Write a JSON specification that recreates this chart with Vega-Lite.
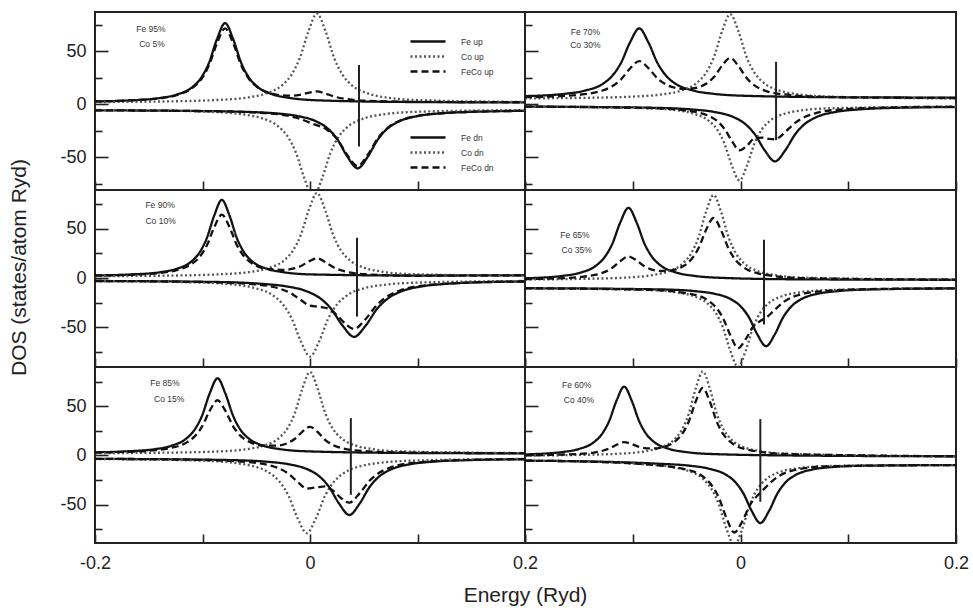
{
"$schema":"https://vega.github.io/schema/vega-lite/v6.json",
"background":"white",
"padding":{"left":7,"top":11,"right":0,"bottom":0},
"config":{"view":{"stroke":"#222","strokeWidth":2},"font":"Liberation Sans",
"axis":{"grid":false,"domain":false,"tickColor":"#222","tickWidth":1.6,"labelFont":"Liberation Sans","labelFontSize":18,"labelColor":"#222","titleFont":"Liberation Sans","titleFontSize":21,"titleFontWeight":"normal","titleColor":"#222","labelFlush":false,"labelBound":false,"labelOverlap":false},
"legend":{"labelFont":"Liberation Sans"},
"line":{"strokeWidth":2.3},
"text":{"font":"Liberation Sans"}},
"datasets":{
"fermi":[{"p":"a","x":0.0456,"y":37,"y2":-40},{"p":"b","x":0.033,"y":40,"y2":-34},{"p":"c","x":0.0437,"y":40.7,"y2":-39},{"p":"d","x":0.0218,"y":38.7,"y2":-47},{"p":"e","x":0.038,"y":38,"y2":-40},{"p":"f","x":0.0184,"y":37,"y2":-47}],
"comp":[{"p":"a","t":"Fe 95%","x":-0.148,"y":70.8},{"p":"a","t":"Co 5%","x":-0.147,"y":56.6},{"p":"b","t":"Fe 70%","x":-0.144,"y":68.2},{"p":"b","t":"Co 30%","x":-0.144,"y":55.7},{"p":"c","t":"Fe 90%","x":-0.1395,"y":74},{"p":"c","t":"Co 10%","x":-0.139,"y":57.2},{"p":"d","t":"Fe 65%","x":-0.1536,"y":43.7},{"p":"d","t":"Co 35%","x":-0.152,"y":28.6},{"p":"e","t":"Fe 85%","x":-0.135,"y":73.8},{"p":"e","t":"Co 15%","x":-0.131,"y":57.5},{"p":"f","t":"Fe 60%","x":-0.152,"y":71.7},{"p":"f","t":"Co 40%","x":-0.15,"y":56.5}],
"curves":[
{"p":"a","s":"Fe up","x":-0.2,"y":2.6},{"p":"a","s":"Fe up","x":-0.169,"y":3.5},{"p":"a","s":"Fe up","x":-0.139,"y":5.9},{"p":"a","s":"Fe up","x":-0.124,"y":9},{"p":"a","s":"Fe up","x":-0.109,"y":16.5},{"p":"a","s":"Fe up","x":-0.1015,"y":24.6},{"p":"a","s":"Fe up","x":-0.094,"y":39},{"p":"a","s":"Fe up","x":-0.0865,"y":61.5},{"p":"a","s":"Fe up","x":-0.079,"y":76.5},{"p":"a","s":"Fe up","x":-0.0715,"y":61.5},{"p":"a","s":"Fe up","x":-0.064,"y":39},{"p":"a","s":"Fe up","x":-0.0565,"y":24.6},{"p":"a","s":"Fe up","x":-0.049,"y":16.5},{"p":"a","s":"Fe up","x":-0.034,"y":9},{"p":"a","s":"Fe up","x":-0.019,"y":5.9},{"p":"a","s":"Fe up","x":0.011,"y":3.5},{"p":"a","s":"Fe up","x":0.1,"y":2.0},{"p":"a","s":"Fe up","x":0.2,"y":1.7},
{"p":"a","s":"Co up","x":-0.2,"y":2.0},{"p":"a","s":"Co up","x":-0.14,"y":2.5},{"p":"a","s":"Co up","x":-0.0895,"y":3.8},{"p":"a","s":"Co up","x":-0.0575,"y":6.4},{"p":"a","s":"Co up","x":-0.0415,"y":9.9},{"p":"a","s":"Co up","x":-0.0255,"y":18.3},{"p":"a","s":"Co up","x":-0.0175,"y":27.4},{"p":"a","s":"Co up","x":-0.0095,"y":43.5},{"p":"a","s":"Co up","x":-0.0015,"y":68.7},{"p":"a","s":"Co up","x":0.0065,"y":85.5},{"p":"a","s":"Co up","x":0.0145,"y":68.7},{"p":"a","s":"Co up","x":0.0225,"y":43.5},{"p":"a","s":"Co up","x":0.0305,"y":27.4},{"p":"a","s":"Co up","x":0.0385,"y":18.3},{"p":"a","s":"Co up","x":0.0545,"y":9.9},{"p":"a","s":"Co up","x":0.0705,"y":6.4},{"p":"a","s":"Co up","x":0.1025,"y":3.8},{"p":"a","s":"Co up","x":0.2,"y":2.1},
{"p":"a","s":"FeCo up","x":-0.2,"y":2.6},{"p":"a","s":"FeCo up","x":-0.169,"y":3.5},{"p":"a","s":"FeCo up","x":-0.139,"y":5.7},{"p":"a","s":"FeCo up","x":-0.124,"y":8.6},{"p":"a","s":"FeCo up","x":-0.109,"y":15.6},{"p":"a","s":"FeCo up","x":-0.1015,"y":23.1},{"p":"a","s":"FeCo up","x":-0.094,"y":36.6},{"p":"a","s":"FeCo up","x":-0.0865,"y":57.5},{"p":"a","s":"FeCo up","x":-0.079,"y":71.5},{"p":"a","s":"FeCo up","x":-0.0715,"y":57.6},{"p":"a","s":"FeCo up","x":-0.064,"y":36.8},{"p":"a","s":"FeCo up","x":-0.0565,"y":23.5},{"p":"a","s":"FeCo up","x":-0.049,"y":16.1},{"p":"a","s":"FeCo up","x":-0.034,"y":9.6},{"p":"a","s":"FeCo up","x":-0.0255,"y":8.3},{"p":"a","s":"FeCo up","x":-0.0175,"y":8.0},{"p":"a","s":"FeCo up","x":-0.0095,"y":8.8},{"p":"a","s":"FeCo up","x":-0.0015,"y":10.7},{"p":"a","s":"FeCo up","x":0.0065,"y":12.0},{"p":"a","s":"FeCo up","x":0.0145,"y":10.0},{"p":"a","s":"FeCo up","x":0.0225,"y":7.2},{"p":"a","s":"FeCo up","x":0.0385,"y":4.3},{"p":"a","s":"FeCo up","x":0.0545,"y":3.2},{"p":"a","s":"FeCo up","x":0.1,"y":2.2},{"p":"a","s":"FeCo up","x":0.2,"y":1.8},
{"p":"a","s":"Fe dn","x":-0.2,"y":-5.8},{"p":"a","s":"Fe dn","x":-0.13,"y":-6.2},{"p":"a","s":"Fe dn","x":-0.0697,"y":-7.0},{"p":"a","s":"Fe dn","x":-0.0317,"y":-8.7},{"p":"a","s":"Fe dn","x":-0.0127,"y":-11},{"p":"a","s":"Fe dn","x":0.0063,"y":-16.5},{"p":"a","s":"Fe dn","x":0.0158,"y":-22.4},{"p":"a","s":"Fe dn","x":0.0253,"y":-33},{"p":"a","s":"Fe dn","x":0.0348,"y":-49.5},{"p":"a","s":"Fe dn","x":0.0443,"y":-60.5},{"p":"a","s":"Fe dn","x":0.0538,"y":-49.5},{"p":"a","s":"Fe dn","x":0.0633,"y":-33},{"p":"a","s":"Fe dn","x":0.0728,"y":-22.4},{"p":"a","s":"Fe dn","x":0.0823,"y":-16.5},{"p":"a","s":"Fe dn","x":0.1013,"y":-11},{"p":"a","s":"Fe dn","x":0.1203,"y":-8.7},{"p":"a","s":"Fe dn","x":0.1583,"y":-7.0},{"p":"a","s":"Fe dn","x":0.2,"y":-6.3},
{"p":"a","s":"Co dn","x":-0.2,"y":-5.5},{"p":"a","s":"Co dn","x":-0.14,"y":-6.0},{"p":"a","s":"Co dn","x":-0.093,"y":-7.2},{"p":"a","s":"Co dn","x":-0.061,"y":-9.8},{"p":"a","s":"Co dn","x":-0.045,"y":-13.2},{"p":"a","s":"Co dn","x":-0.029,"y":-21.4},{"p":"a","s":"Co dn","x":-0.021,"y":-30.2},{"p":"a","s":"Co dn","x":-0.013,"y":-46},{"p":"a","s":"Co dn","x":-0.005,"y":-70.6},{"p":"a","s":"Co dn","x":0.003,"y":-87},{"p":"a","s":"Co dn","x":0.011,"y":-70.6},{"p":"a","s":"Co dn","x":0.019,"y":-46},{"p":"a","s":"Co dn","x":0.027,"y":-30.2},{"p":"a","s":"Co dn","x":0.035,"y":-21.4},{"p":"a","s":"Co dn","x":0.051,"y":-13.2},{"p":"a","s":"Co dn","x":0.067,"y":-9.8},{"p":"a","s":"Co dn","x":0.099,"y":-7.2},{"p":"a","s":"Co dn","x":0.2,"y":-5.5},
{"p":"a","s":"FeCo dn","x":-0.2,"y":-5.8},{"p":"a","s":"FeCo dn","x":-0.13,"y":-6.2},{"p":"a","s":"FeCo dn","x":-0.0697,"y":-7.1},{"p":"a","s":"FeCo dn","x":-0.045,"y":-8.2},{"p":"a","s":"FeCo dn","x":-0.029,"y":-9.6},{"p":"a","s":"FeCo dn","x":-0.0127,"y":-12.8},{"p":"a","s":"FeCo dn","x":0.003,"y":-18.7},{"p":"a","s":"FeCo dn","x":0.0158,"y":-24.1},{"p":"a","s":"FeCo dn","x":0.0253,"y":-33.0},{"p":"a","s":"FeCo dn","x":0.0348,"y":-48.1},{"p":"a","s":"FeCo dn","x":0.0443,"y":-58.3},{"p":"a","s":"FeCo dn","x":0.0538,"y":-47.7},{"p":"a","s":"FeCo dn","x":0.0633,"y":-31.9},{"p":"a","s":"FeCo dn","x":0.0728,"y":-21.8},{"p":"a","s":"FeCo dn","x":0.0823,"y":-16.1},{"p":"a","s":"FeCo dn","x":0.1013,"y":-10.8},{"p":"a","s":"FeCo dn","x":0.1203,"y":-8.8},{"p":"a","s":"FeCo dn","x":0.1583,"y":-7.0},{"p":"a","s":"FeCo dn","x":0.2,"y":-6.3},
{"p":"b","s":"Fe up","x":-0.2,"y":7.6},{"p":"b","s":"Fe up","x":-0.162,"y":9.9},{"p":"b","s":"Fe up","x":-0.145,"y":12.6},{"p":"b","s":"Fe up","x":-0.128,"y":19.1},{"p":"b","s":"Fe up","x":-0.1195,"y":26.2},{"p":"b","s":"Fe up","x":-0.111,"y":38.8},{"p":"b","s":"Fe up","x":-0.1025,"y":58.4},{"p":"b","s":"Fe up","x":-0.094,"y":71.5},{"p":"b","s":"Fe up","x":-0.0855,"y":58.4},{"p":"b","s":"Fe up","x":-0.077,"y":38.8},{"p":"b","s":"Fe up","x":-0.0685,"y":26.2},{"p":"b","s":"Fe up","x":-0.06,"y":19.1},{"p":"b","s":"Fe up","x":-0.043,"y":12.6},{"p":"b","s":"Fe up","x":-0.026,"y":9.9},{"p":"b","s":"Fe up","x":0.008,"y":7.8},{"p":"b","s":"Fe up","x":0.1,"y":6.5},{"p":"b","s":"Fe up","x":0.2,"y":6.2},
{"p":"b","s":"Co up","x":-0.2,"y":5.5},{"p":"b","s":"Co up","x":-0.15,"y":5.9},{"p":"b","s":"Co up","x":-0.0995,"y":7.2},{"p":"b","s":"Co up","x":-0.0695,"y":9.7},{"p":"b","s":"Co up","x":-0.0545,"y":13},{"p":"b","s":"Co up","x":-0.0395,"y":21},{"p":"b","s":"Co up","x":-0.032,"y":29.6},{"p":"b","s":"Co up","x":-0.0245,"y":45},{"p":"b","s":"Co up","x":-0.017,"y":69},{"p":"b","s":"Co up","x":-0.0095,"y":85},{"p":"b","s":"Co up","x":-0.002,"y":69},{"p":"b","s":"Co up","x":0.0055,"y":45},{"p":"b","s":"Co up","x":0.013,"y":29.6},{"p":"b","s":"Co up","x":0.0205,"y":21},{"p":"b","s":"Co up","x":0.0355,"y":13},{"p":"b","s":"Co up","x":0.0505,"y":9.7},{"p":"b","s":"Co up","x":0.0805,"y":7.2},{"p":"b","s":"Co up","x":0.2,"y":5.4},
{"p":"b","s":"FeCo up","x":-0.2,"y":6.6},{"p":"b","s":"FeCo up","x":-0.162,"y":7.9},{"p":"b","s":"FeCo up","x":-0.145,"y":9.4},{"p":"b","s":"FeCo up","x":-0.128,"y":12.9},{"p":"b","s":"FeCo up","x":-0.1195,"y":16.7},{"p":"b","s":"FeCo up","x":-0.111,"y":23.3},{"p":"b","s":"FeCo up","x":-0.1025,"y":33.7},{"p":"b","s":"FeCo up","x":-0.094,"y":40.7},{"p":"b","s":"FeCo up","x":-0.0855,"y":34.1},{"p":"b","s":"FeCo up","x":-0.077,"y":24.3},{"p":"b","s":"FeCo up","x":-0.0685,"y":18.2},{"p":"b","s":"FeCo up","x":-0.06,"y":15.3},{"p":"b","s":"FeCo up","x":-0.052,"y":14.4},{"p":"b","s":"FeCo up","x":-0.043,"y":15.1},{"p":"b","s":"FeCo up","x":-0.0395,"y":15.9},{"p":"b","s":"FeCo up","x":-0.032,"y":19.2},{"p":"b","s":"FeCo up","x":-0.0245,"y":25.8},{"p":"b","s":"FeCo up","x":-0.017,"y":36.5},{"p":"b","s":"FeCo up","x":-0.0095,"y":43.6},{"p":"b","s":"FeCo up","x":-0.002,"y":36.1},{"p":"b","s":"FeCo up","x":0.0055,"y":24.9},{"p":"b","s":"FeCo up","x":0.013,"y":17.7},{"p":"b","s":"FeCo up","x":0.0205,"y":13.6},{"p":"b","s":"FeCo up","x":0.0355,"y":9.8},{"p":"b","s":"FeCo up","x":0.0805,"y":6.8},{"p":"b","s":"FeCo up","x":0.2,"y":5.8},
{"p":"b","s":"Fe dn","x":-0.2,"y":-2.3},{"p":"b","s":"Fe dn","x":-0.082,"y":-3.4},{"p":"b","s":"Fe dn","x":-0.044,"y":-5.1},{"p":"b","s":"Fe dn","x":-0.025,"y":-7.2},{"p":"b","s":"Fe dn","x":-0.006,"y":-12.4},{"p":"b","s":"Fe dn","x":0.0035,"y":-18},{"p":"b","s":"Fe dn","x":0.013,"y":-28},{"p":"b","s":"Fe dn","x":0.0225,"y":-43.6},{"p":"b","s":"Fe dn","x":0.032,"y":-54},{"p":"b","s":"Fe dn","x":0.0415,"y":-43.6},{"p":"b","s":"Fe dn","x":0.051,"y":-28},{"p":"b","s":"Fe dn","x":0.0605,"y":-18},{"p":"b","s":"Fe dn","x":0.07,"y":-12.4},{"p":"b","s":"Fe dn","x":0.089,"y":-7.2},{"p":"b","s":"Fe dn","x":0.108,"y":-5.1},{"p":"b","s":"Fe dn","x":0.146,"y":-3.4},{"p":"b","s":"Fe dn","x":0.2,"y":-2.7},
{"p":"b","s":"Co dn","x":-0.2,"y":-2.3},{"p":"b","s":"Co dn","x":-0.085,"y":-3.9},{"p":"b","s":"Co dn","x":-0.057,"y":-6.1},{"p":"b","s":"Co dn","x":-0.043,"y":-9},{"p":"b","s":"Co dn","x":-0.029,"y":-16},{"p":"b","s":"Co dn","x":-0.022,"y":-23.5},{"p":"b","s":"Co dn","x":-0.015,"y":-37},{"p":"b","s":"Co dn","x":-0.008,"y":-58},{"p":"b","s":"Co dn","x":-0.001,"y":-72},{"p":"b","s":"Co dn","x":0.006,"y":-58},{"p":"b","s":"Co dn","x":0.013,"y":-37},{"p":"b","s":"Co dn","x":0.02,"y":-23.5},{"p":"b","s":"Co dn","x":0.027,"y":-16},{"p":"b","s":"Co dn","x":0.041,"y":-9},{"p":"b","s":"Co dn","x":0.055,"y":-6.1},{"p":"b","s":"Co dn","x":0.083,"y":-3.9},{"p":"b","s":"Co dn","x":0.2,"y":-2.3},
{"p":"b","s":"FeCo dn","x":-0.2,"y":-2.3},{"p":"b","s":"FeCo dn","x":-0.085,"y":-3.6},{"p":"b","s":"FeCo dn","x":-0.043,"y":-7.1},{"p":"b","s":"FeCo dn","x":-0.029,"y":-11.3},{"p":"b","s":"FeCo dn","x":-0.022,"y":-15.6},{"p":"b","s":"FeCo dn","x":-0.015,"y":-23.2},{"p":"b","s":"FeCo dn","x":-0.008,"y":-34.8},{"p":"b","s":"FeCo dn","x":-0.001,"y":-43.5},{"p":"b","s":"FeCo dn","x":0.006,"y":-39.1},{"p":"b","s":"FeCo dn","x":0.013,"y":-32.3},{"p":"b","s":"FeCo dn","x":0.02,"y":-31.6},{"p":"b","s":"FeCo dn","x":0.027,"y":-32.8},{"p":"b","s":"FeCo dn","x":0.032,"y":-33.1},{"p":"b","s":"FeCo dn","x":0.037,"y":-30.5},{"p":"b","s":"FeCo dn","x":0.041,"y":-26.8},{"p":"b","s":"FeCo dn","x":0.051,"y":-17.4},{"p":"b","s":"FeCo dn","x":0.0605,"y":-11.7},{"p":"b","s":"FeCo dn","x":0.07,"y":-8.5},{"p":"b","s":"FeCo dn","x":0.089,"y":-5.3},{"p":"b","s":"FeCo dn","x":0.146,"y":-3.0},{"p":"b","s":"FeCo dn","x":0.2,"y":-2.4},
{"p":"c","s":"Fe up","x":-0.2,"y":2.6},{"p":"c","s":"Fe up","x":-0.166,"y":3.6},{"p":"c","s":"Fe up","x":-0.138,"y":6.1},{"p":"c","s":"Fe up","x":-0.124,"y":9.3},{"p":"c","s":"Fe up","x":-0.11,"y":17},{"p":"c","s":"Fe up","x":-0.103,"y":25.4},{"p":"c","s":"Fe up","x":-0.096,"y":40.3},{"p":"c","s":"Fe up","x":-0.089,"y":63.5},{"p":"c","s":"Fe up","x":-0.082,"y":79},{"p":"c","s":"Fe up","x":-0.075,"y":63.5},{"p":"c","s":"Fe up","x":-0.068,"y":40.3},{"p":"c","s":"Fe up","x":-0.061,"y":25.4},{"p":"c","s":"Fe up","x":-0.054,"y":17},{"p":"c","s":"Fe up","x":-0.04,"y":9.3},{"p":"c","s":"Fe up","x":-0.026,"y":6.1},{"p":"c","s":"Fe up","x":0.002,"y":3.6},{"p":"c","s":"Fe up","x":0.1,"y":2.5},{"p":"c","s":"Fe up","x":0.2,"y":2.8},
{"p":"c","s":"Co up","x":-0.2,"y":1.9},{"p":"c","s":"Co up","x":-0.14,"y":2.3},{"p":"c","s":"Co up","x":-0.0835,"y":3.8},{"p":"c","s":"Co up","x":-0.0535,"y":6.5},{"p":"c","s":"Co up","x":-0.0385,"y":10},{"p":"c","s":"Co up","x":-0.0235,"y":18.4},{"p":"c","s":"Co up","x":-0.016,"y":27.5},{"p":"c","s":"Co up","x":-0.0085,"y":43.8},{"p":"c","s":"Co up","x":-0.001,"y":69.1},{"p":"c","s":"Co up","x":0.0065,"y":86},{"p":"c","s":"Co up","x":0.014,"y":69.1},{"p":"c","s":"Co up","x":0.0215,"y":43.8},{"p":"c","s":"Co up","x":0.029,"y":27.5},{"p":"c","s":"Co up","x":0.0365,"y":18.4},{"p":"c","s":"Co up","x":0.0515,"y":10},{"p":"c","s":"Co up","x":0.0665,"y":6.5},{"p":"c","s":"Co up","x":0.0965,"y":3.8},{"p":"c","s":"Co up","x":0.2,"y":2.4},
{"p":"c","s":"FeCo up","x":-0.2,"y":2.5},{"p":"c","s":"FeCo up","x":-0.166,"y":3.3},{"p":"c","s":"FeCo up","x":-0.138,"y":5.3},{"p":"c","s":"FeCo up","x":-0.124,"y":7.9},{"p":"c","s":"FeCo up","x":-0.11,"y":14.2},{"p":"c","s":"FeCo up","x":-0.103,"y":20.9},{"p":"c","s":"FeCo up","x":-0.096,"y":32.9},{"p":"c","s":"FeCo up","x":-0.089,"y":51.5},{"p":"c","s":"FeCo up","x":-0.082,"y":64},{"p":"c","s":"FeCo up","x":-0.075,"y":51.7},{"p":"c","s":"FeCo up","x":-0.068,"y":33.2},{"p":"c","s":"FeCo up","x":-0.061,"y":21.4},{"p":"c","s":"FeCo up","x":-0.054,"y":14.9},{"p":"c","s":"FeCo up","x":-0.04,"y":9.3},{"p":"c","s":"FeCo up","x":-0.0235,"y":8.2},{"p":"c","s":"FeCo up","x":-0.016,"y":9.4},{"p":"c","s":"FeCo up","x":-0.0085,"y":12.1},{"p":"c","s":"FeCo up","x":-0.001,"y":16.8},{"p":"c","s":"FeCo up","x":0.0065,"y":19.9},{"p":"c","s":"FeCo up","x":0.014,"y":16.3},{"p":"c","s":"FeCo up","x":0.0215,"y":11.1},{"p":"c","s":"FeCo up","x":0.0365,"y":5.7},{"p":"c","s":"FeCo up","x":0.0515,"y":3.8},{"p":"c","s":"FeCo up","x":0.0965,"y":2.3},{"p":"c","s":"FeCo up","x":0.2,"y":2.8},
{"p":"c","s":"Fe dn","x":-0.2,"y":-3.0},{"p":"c","s":"Fe dn","x":-0.088,"y":-4.0},{"p":"c","s":"Fe dn","x":-0.045,"y":-5.9},{"p":"c","s":"Fe dn","x":-0.0235,"y":-8.2},{"p":"c","s":"Fe dn","x":-0.002,"y":-13.9},{"p":"c","s":"Fe dn","x":0.0088,"y":-20},{"p":"c","s":"Fe dn","x":0.0195,"y":-31},{"p":"c","s":"Fe dn","x":0.0303,"y":-48.1},{"p":"c","s":"Fe dn","x":0.041,"y":-59.5},{"p":"c","s":"Fe dn","x":0.0518,"y":-48.1},{"p":"c","s":"Fe dn","x":0.0625,"y":-31},{"p":"c","s":"Fe dn","x":0.0733,"y":-20},{"p":"c","s":"Fe dn","x":0.084,"y":-13.9},{"p":"c","s":"Fe dn","x":0.1055,"y":-8.2},{"p":"c","s":"Fe dn","x":0.127,"y":-5.9},{"p":"c","s":"Fe dn","x":0.17,"y":-4.0},{"p":"c","s":"Fe dn","x":0.2,"y":-3.5},
{"p":"c","s":"Co dn","x":-0.2,"y":-3.0},{"p":"c","s":"Co dn","x":-0.102,"y":-4.6},{"p":"c","s":"Co dn","x":-0.068,"y":-7.0},{"p":"c","s":"Co dn","x":-0.051,"y":-10.2},{"p":"c","s":"Co dn","x":-0.034,"y":-17.9},{"p":"c","s":"Co dn","x":-0.0255,"y":-26.2},{"p":"c","s":"Co dn","x":-0.017,"y":-41},{"p":"c","s":"Co dn","x":-0.0085,"y":-64.1},{"p":"c","s":"Co dn","x":0,"y":-79.5},{"p":"c","s":"Co dn","x":0.0085,"y":-64.1},{"p":"c","s":"Co dn","x":0.017,"y":-41},{"p":"c","s":"Co dn","x":0.0255,"y":-26.2},{"p":"c","s":"Co dn","x":0.034,"y":-17.9},{"p":"c","s":"Co dn","x":0.051,"y":-10.2},{"p":"c","s":"Co dn","x":0.068,"y":-7.0},{"p":"c","s":"Co dn","x":0.102,"y":-4.6},{"p":"c","s":"Co dn","x":0.2,"y":-3.0},
{"p":"c","s":"FeCo dn","x":-0.2,"y":-3.0},{"p":"c","s":"FeCo dn","x":-0.102,"y":-4.0},{"p":"c","s":"FeCo dn","x":-0.051,"y":-6.5},{"p":"c","s":"FeCo dn","x":-0.034,"y":-9.1},{"p":"c","s":"FeCo dn","x":-0.017,"y":-15.9},{"p":"c","s":"FeCo dn","x":-0.0085,"y":-22.3},{"p":"c","s":"FeCo dn","x":0,"y":-28.0},{"p":"c","s":"FeCo dn","x":0.0085,"y":-29.1},{"p":"c","s":"FeCo dn","x":0.017,"y":-31.0},{"p":"c","s":"FeCo dn","x":0.0255,"y":-38.0},{"p":"c","s":"FeCo dn","x":0.0303,"y":-43.6},{"p":"c","s":"FeCo dn","x":0.041,"y":-51.5},{"p":"c","s":"FeCo dn","x":0.0518,"y":-41.4},{"p":"c","s":"FeCo dn","x":0.0625,"y":-26.9},{"p":"c","s":"FeCo dn","x":0.0733,"y":-17.7},{"p":"c","s":"FeCo dn","x":0.084,"y":-12.5},{"p":"c","s":"FeCo dn","x":0.1055,"y":-7.6},{"p":"c","s":"FeCo dn","x":0.17,"y":-3.9},{"p":"c","s":"FeCo dn","x":0.2,"y":-3.5},
{"p":"d","s":"Fe up","x":-0.2,"y":-0.3},{"p":"d","s":"Fe up","x":-0.164,"y":2.3},{"p":"d","s":"Fe up","x":-0.149,"y":5.3},{"p":"d","s":"Fe up","x":-0.134,"y":12.6},{"p":"d","s":"Fe up","x":-0.1265,"y":20.5},{"p":"d","s":"Fe up","x":-0.119,"y":34.5},{"p":"d","s":"Fe up","x":-0.1115,"y":56.4},{"p":"d","s":"Fe up","x":-0.104,"y":71},{"p":"d","s":"Fe up","x":-0.0965,"y":56.4},{"p":"d","s":"Fe up","x":-0.089,"y":34.5},{"p":"d","s":"Fe up","x":-0.0815,"y":20.5},{"p":"d","s":"Fe up","x":-0.074,"y":12.6},{"p":"d","s":"Fe up","x":-0.059,"y":5.3},{"p":"d","s":"Fe up","x":-0.044,"y":2.3},{"p":"d","s":"Fe up","x":-0.014,"y":0},{"p":"d","s":"Fe up","x":0.05,"y":-1.3},{"p":"d","s":"Fe up","x":0.2,"y":-1.8},
{"p":"d","s":"Co up","x":-0.2,"y":-1.5},{"p":"d","s":"Co up","x":-0.15,"y":-0.9},{"p":"d","s":"Co up","x":-0.109,"y":0.3},{"p":"d","s":"Co up","x":-0.081,"y":3.1},{"p":"d","s":"Co up","x":-0.067,"y":6.6},{"p":"d","s":"Co up","x":-0.053,"y":15.2},{"p":"d","s":"Co up","x":-0.046,"y":24.5},{"p":"d","s":"Co up","x":-0.039,"y":41},{"p":"d","s":"Co up","x":-0.032,"y":66.8},{"p":"d","s":"Co up","x":-0.025,"y":84},{"p":"d","s":"Co up","x":-0.018,"y":66.8},{"p":"d","s":"Co up","x":-0.011,"y":41},{"p":"d","s":"Co up","x":-0.004,"y":24.5},{"p":"d","s":"Co up","x":0.003,"y":15.2},{"p":"d","s":"Co up","x":0.017,"y":6.6},{"p":"d","s":"Co up","x":0.031,"y":3.1},{"p":"d","s":"Co up","x":0.059,"y":0.3},{"p":"d","s":"Co up","x":0.2,"y":-1.7},
{"p":"d","s":"FeCo up","x":-0.2,"y":-1.1},{"p":"d","s":"FeCo up","x":-0.164,"y":-0.1},{"p":"d","s":"FeCo up","x":-0.149,"y":1.0},{"p":"d","s":"FeCo up","x":-0.134,"y":3.4},{"p":"d","s":"FeCo up","x":-0.1265,"y":5.9},{"p":"d","s":"FeCo up","x":-0.119,"y":10.3},{"p":"d","s":"FeCo up","x":-0.1115,"y":17.1},{"p":"d","s":"FeCo up","x":-0.104,"y":21.8},{"p":"d","s":"FeCo up","x":-0.0965,"y":17.8},{"p":"d","s":"FeCo up","x":-0.089,"y":11.8},{"p":"d","s":"FeCo up","x":-0.0815,"y":8.3},{"p":"d","s":"FeCo up","x":-0.074,"y":7.1},{"p":"d","s":"FeCo up","x":-0.067,"y":7.3},{"p":"d","s":"FeCo up","x":-0.06,"y":8.8},{"p":"d","s":"FeCo up","x":-0.053,"y":12.1},{"p":"d","s":"FeCo up","x":-0.046,"y":18.4},{"p":"d","s":"FeCo up","x":-0.039,"y":30.1},{"p":"d","s":"FeCo up","x":-0.032,"y":48.5},{"p":"d","s":"FeCo up","x":-0.025,"y":60.7},{"p":"d","s":"FeCo up","x":-0.018,"y":48.2},{"p":"d","s":"FeCo up","x":-0.011,"y":29.5},{"p":"d","s":"FeCo up","x":-0.004,"y":17.5},{"p":"d","s":"FeCo up","x":0.003,"y":10.8},{"p":"d","s":"FeCo up","x":0.017,"y":4.5},{"p":"d","s":"FeCo up","x":0.059,"y":-0.2},{"p":"d","s":"FeCo up","x":0.2,"y":-1.7},
{"p":"d","s":"Fe dn","x":-0.2,"y":-10.3},{"p":"d","s":"Fe dn","x":-0.0723,"y":-11.6},{"p":"d","s":"Fe dn","x":-0.0403,"y":-13.5},{"p":"d","s":"Fe dn","x":-0.0243,"y":-15.9},{"p":"d","s":"Fe dn","x":-0.0083,"y":-21.8},{"p":"d","s":"Fe dn","x":-0.0003,"y":-28.2},{"p":"d","s":"Fe dn","x":0.0077,"y":-39.5},{"p":"d","s":"Fe dn","x":0.0157,"y":-57.2},{"p":"d","s":"Fe dn","x":0.0237,"y":-69},{"p":"d","s":"Fe dn","x":0.0317,"y":-57.2},{"p":"d","s":"Fe dn","x":0.0397,"y":-39.5},{"p":"d","s":"Fe dn","x":0.0477,"y":-28.2},{"p":"d","s":"Fe dn","x":0.0557,"y":-21.8},{"p":"d","s":"Fe dn","x":0.0717,"y":-15.9},{"p":"d","s":"Fe dn","x":0.0877,"y":-13.5},{"p":"d","s":"Fe dn","x":0.1197,"y":-11.6},{"p":"d","s":"Fe dn","x":0.2,"y":-10.5},
{"p":"d","s":"Co dn","x":-0.2,"y":-10.4},{"p":"d","s":"Co dn","x":-0.0863,"y":-12.2},{"p":"d","s":"Co dn","x":-0.0583,"y":-14.7},{"p":"d","s":"Co dn","x":-0.0443,"y":-18},{"p":"d","s":"Co dn","x":-0.0303,"y":-26},{"p":"d","s":"Co dn","x":-0.0233,"y":-34.6},{"p":"d","s":"Co dn","x":-0.0163,"y":-50},{"p":"d","s":"Co dn","x":-0.0093,"y":-74},{"p":"d","s":"Co dn","x":-0.0023,"y":-90},{"p":"d","s":"Co dn","x":0.0047,"y":-74},{"p":"d","s":"Co dn","x":0.0117,"y":-50},{"p":"d","s":"Co dn","x":0.0187,"y":-34.6},{"p":"d","s":"Co dn","x":0.0257,"y":-26},{"p":"d","s":"Co dn","x":0.0397,"y":-18},{"p":"d","s":"Co dn","x":0.0537,"y":-14.7},{"p":"d","s":"Co dn","x":0.0817,"y":-12.2},{"p":"d","s":"Co dn","x":0.2,"y":-10.4},
{"p":"d","s":"FeCo dn","x":-0.2,"y":-10.4},{"p":"d","s":"FeCo dn","x":-0.0863,"y":-11.9},{"p":"d","s":"FeCo dn","x":-0.0443,"y":-16.5},{"p":"d","s":"FeCo dn","x":-0.0303,"y":-22.6},{"p":"d","s":"FeCo dn","x":-0.0233,"y":-29.1},{"p":"d","s":"FeCo dn","x":-0.0163,"y":-40.4},{"p":"d","s":"FeCo dn","x":-0.0093,"y":-58.2},{"p":"d","s":"FeCo dn","x":-0.0023,"y":-70.9},{"p":"d","s":"FeCo dn","x":0.0047,"y":-62.1},{"p":"d","s":"FeCo dn","x":0.0117,"y":-49.3},{"p":"d","s":"FeCo dn","x":0.0187,"y":-43.3},{"p":"d","s":"FeCo dn","x":0.0237,"y":-40.2},{"p":"d","s":"FeCo dn","x":0.0317,"y":-32.3},{"p":"d","s":"FeCo dn","x":0.0397,"y":-24.5},{"p":"d","s":"FeCo dn","x":0.0477,"y":-19.5},{"p":"d","s":"FeCo dn","x":0.0557,"y":-16.6},{"p":"d","s":"FeCo dn","x":0.0717,"y":-13.7},{"p":"d","s":"FeCo dn","x":0.1197,"y":-11.2},{"p":"d","s":"FeCo dn","x":0.2,"y":-10.5},
{"p":"e","s":"Fe up","x":-0.2,"y":3.2},{"p":"e","s":"Fe up","x":-0.173,"y":4.1},{"p":"e","s":"Fe up","x":-0.144,"y":6.5},{"p":"e","s":"Fe up","x":-0.1295,"y":9.7},{"p":"e","s":"Fe up","x":-0.115,"y":17.3},{"p":"e","s":"Fe up","x":-0.1078,"y":25.5},{"p":"e","s":"Fe up","x":-0.1005,"y":40.3},{"p":"e","s":"Fe up","x":-0.0933,"y":63.2},{"p":"e","s":"Fe up","x":-0.086,"y":78.5},{"p":"e","s":"Fe up","x":-0.0788,"y":63.2},{"p":"e","s":"Fe up","x":-0.0715,"y":40.3},{"p":"e","s":"Fe up","x":-0.0643,"y":25.5},{"p":"e","s":"Fe up","x":-0.057,"y":17.3},{"p":"e","s":"Fe up","x":-0.0425,"y":9.7},{"p":"e","s":"Fe up","x":-0.028,"y":6.5},{"p":"e","s":"Fe up","x":0.001,"y":4.1},{"p":"e","s":"Fe up","x":0.1,"y":2.5},{"p":"e","s":"Fe up","x":0.2,"y":2.2},
{"p":"e","s":"Co up","x":-0.2,"y":2.4},{"p":"e","s":"Co up","x":-0.14,"y":2.8},{"p":"e","s":"Co up","x":-0.084,"y":4.2},{"p":"e","s":"Co up","x":-0.056,"y":6.9},{"p":"e","s":"Co up","x":-0.042,"y":10.3},{"p":"e","s":"Co up","x":-0.028,"y":18.6},{"p":"e","s":"Co up","x":-0.021,"y":27.5},{"p":"e","s":"Co up","x":-0.014,"y":43.5},{"p":"e","s":"Co up","x":-0.007,"y":68.4},{"p":"e","s":"Co up","x":0,"y":85},{"p":"e","s":"Co up","x":0.007,"y":68.4},{"p":"e","s":"Co up","x":0.014,"y":43.5},{"p":"e","s":"Co up","x":0.021,"y":27.5},{"p":"e","s":"Co up","x":0.028,"y":18.6},{"p":"e","s":"Co up","x":0.042,"y":10.3},{"p":"e","s":"Co up","x":0.056,"y":6.9},{"p":"e","s":"Co up","x":0.084,"y":4.2},{"p":"e","s":"Co up","x":0.2,"y":2.4},
{"p":"e","s":"FeCo up","x":-0.2,"y":3.0},{"p":"e","s":"FeCo up","x":-0.173,"y":3.6},{"p":"e","s":"FeCo up","x":-0.144,"y":5.4},{"p":"e","s":"FeCo up","x":-0.1295,"y":7.7},{"p":"e","s":"FeCo up","x":-0.115,"y":13.1},{"p":"e","s":"FeCo up","x":-0.1078,"y":18.9},{"p":"e","s":"FeCo up","x":-0.1005,"y":29.3},{"p":"e","s":"FeCo up","x":-0.0933,"y":45.4},{"p":"e","s":"FeCo up","x":-0.086,"y":56.2},{"p":"e","s":"FeCo up","x":-0.0788,"y":45.6},{"p":"e","s":"FeCo up","x":-0.0715,"y":29.7},{"p":"e","s":"FeCo up","x":-0.0643,"y":19.7},{"p":"e","s":"FeCo up","x":-0.057,"y":14.2},{"p":"e","s":"FeCo up","x":-0.0425,"y":9.9},{"p":"e","s":"FeCo up","x":-0.028,"y":10.3},{"p":"e","s":"FeCo up","x":-0.021,"y":12.5},{"p":"e","s":"FeCo up","x":-0.014,"y":17.0},{"p":"e","s":"FeCo up","x":-0.007,"y":24.3},{"p":"e","s":"FeCo up","x":0,"y":29.2},{"p":"e","s":"FeCo up","x":0.007,"y":23.9},{"p":"e","s":"FeCo up","x":0.014,"y":16.0},{"p":"e","s":"FeCo up","x":0.021,"y":10.9},{"p":"e","s":"FeCo up","x":0.028,"y":8.0},{"p":"e","s":"FeCo up","x":0.042,"y":5.3},{"p":"e","s":"FeCo up","x":0.084,"y":3.1},{"p":"e","s":"FeCo up","x":0.2,"y":2.3},
{"p":"e","s":"Fe dn","x":-0.2,"y":-3.4},{"p":"e","s":"Fe dn","x":-0.0774,"y":-4.6},{"p":"e","s":"Fe dn","x":-0.0394,"y":-6.4},{"p":"e","s":"Fe dn","x":-0.0204,"y":-8.8},{"p":"e","s":"Fe dn","x":-0.0014,"y":-14.5},{"p":"e","s":"Fe dn","x":0.0081,"y":-20.7},{"p":"e","s":"Fe dn","x":0.0176,"y":-31.8},{"p":"e","s":"Fe dn","x":0.0271,"y":-49},{"p":"e","s":"Fe dn","x":0.0366,"y":-60.5},{"p":"e","s":"Fe dn","x":0.0461,"y":-49},{"p":"e","s":"Fe dn","x":0.0556,"y":-31.8},{"p":"e","s":"Fe dn","x":0.0651,"y":-20.7},{"p":"e","s":"Fe dn","x":0.0746,"y":-14.5},{"p":"e","s":"Fe dn","x":0.0936,"y":-8.8},{"p":"e","s":"Fe dn","x":0.1126,"y":-6.4},{"p":"e","s":"Fe dn","x":0.1506,"y":-4.6},{"p":"e","s":"Fe dn","x":0.2,"y":-3.8},
{"p":"e","s":"Co dn","x":-0.2,"y":-3.6},{"p":"e","s":"Co dn","x":-0.105,"y":-5.1},{"p":"e","s":"Co dn","x":-0.071,"y":-7.5},{"p":"e","s":"Co dn","x":-0.054,"y":-10.6},{"p":"e","s":"Co dn","x":-0.037,"y":-18.2},{"p":"e","s":"Co dn","x":-0.0285,"y":-26.4},{"p":"e","s":"Co dn","x":-0.02,"y":-41},{"p":"e","s":"Co dn","x":-0.0115,"y":-63.8},{"p":"e","s":"Co dn","x":-0.003,"y":-79},{"p":"e","s":"Co dn","x":0.0055,"y":-63.8},{"p":"e","s":"Co dn","x":0.014,"y":-41},{"p":"e","s":"Co dn","x":0.0225,"y":-26.4},{"p":"e","s":"Co dn","x":0.031,"y":-18.2},{"p":"e","s":"Co dn","x":0.048,"y":-10.6},{"p":"e","s":"Co dn","x":0.065,"y":-7.5},{"p":"e","s":"Co dn","x":0.099,"y":-5.1},{"p":"e","s":"Co dn","x":0.2,"y":-3.5},
{"p":"e","s":"FeCo dn","x":-0.2,"y":-3.4},{"p":"e","s":"FeCo dn","x":-0.105,"y":-4.4},{"p":"e","s":"FeCo dn","x":-0.054,"y":-7.0},{"p":"e","s":"FeCo dn","x":-0.037,"y":-10.2},{"p":"e","s":"FeCo dn","x":-0.0285,"y":-13.3},{"p":"e","s":"FeCo dn","x":-0.02,"y":-18.6},{"p":"e","s":"FeCo dn","x":-0.0115,"y":-26.8},{"p":"e","s":"FeCo dn","x":-0.003,"y":-33.6},{"p":"e","s":"FeCo dn","x":0.0055,"y":-32.5},{"p":"e","s":"FeCo dn","x":0.014,"y":-31.5},{"p":"e","s":"FeCo dn","x":0.0225,"y":-36.7},{"p":"e","s":"FeCo dn","x":0.0271,"y":-41.6},{"p":"e","s":"FeCo dn","x":0.0366,"y":-47.9},{"p":"e","s":"FeCo dn","x":0.0461,"y":-38.5},{"p":"e","s":"FeCo dn","x":0.0556,"y":-25.5},{"p":"e","s":"FeCo dn","x":0.0651,"y":-17.1},{"p":"e","s":"FeCo dn","x":0.0746,"y":-12.3},{"p":"e","s":"FeCo dn","x":0.0936,"y":-7.8},{"p":"e","s":"FeCo dn","x":0.1506,"y":-4.4},{"p":"e","s":"FeCo dn","x":0.2,"y":-3.7},
{"p":"f","s":"Fe up","x":-0.2,"y":1.1},{"p":"f","s":"Fe up","x":-0.164,"y":3.7},{"p":"f","s":"Fe up","x":-0.15,"y":6.6},{"p":"f","s":"Fe up","x":-0.136,"y":13.6},{"p":"f","s":"Fe up","x":-0.129,"y":21.2},{"p":"f","s":"Fe up","x":-0.122,"y":34.8},{"p":"f","s":"Fe up","x":-0.115,"y":55.9},{"p":"f","s":"Fe up","x":-0.108,"y":70},{"p":"f","s":"Fe up","x":-0.101,"y":55.9},{"p":"f","s":"Fe up","x":-0.094,"y":34.8},{"p":"f","s":"Fe up","x":-0.087,"y":21.2},{"p":"f","s":"Fe up","x":-0.08,"y":13.6},{"p":"f","s":"Fe up","x":-0.066,"y":6.6},{"p":"f","s":"Fe up","x":-0.052,"y":3.7},{"p":"f","s":"Fe up","x":-0.024,"y":1.4},{"p":"f","s":"Fe up","x":0.05,"y":0.0},{"p":"f","s":"Fe up","x":0.2,"y":-0.8},
{"p":"f","s":"Co up","x":-0.2,"y":0.0},{"p":"f","s":"Co up","x":-0.16,"y":0.4},{"p":"f","s":"Co up","x":-0.113,"y":1.8},{"p":"f","s":"Co up","x":-0.087,"y":4.6},{"p":"f","s":"Co up","x":-0.074,"y":8.1},{"p":"f","s":"Co up","x":-0.061,"y":16.7},{"p":"f","s":"Co up","x":-0.0545,"y":26},{"p":"f","s":"Co up","x":-0.048,"y":42.5},{"p":"f","s":"Co up","x":-0.0415,"y":68.3},{"p":"f","s":"Co up","x":-0.035,"y":85.5},{"p":"f","s":"Co up","x":-0.0285,"y":68.3},{"p":"f","s":"Co up","x":-0.022,"y":42.5},{"p":"f","s":"Co up","x":-0.0155,"y":26},{"p":"f","s":"Co up","x":-0.009,"y":16.7},{"p":"f","s":"Co up","x":0.004,"y":8.1},{"p":"f","s":"Co up","x":0.017,"y":4.6},{"p":"f","s":"Co up","x":0.043,"y":1.8},{"p":"f","s":"Co up","x":0.2,"y":-1.0},
{"p":"f","s":"FeCo up","x":-0.2,"y":0.2},{"p":"f","s":"FeCo up","x":-0.15,"y":1.6},{"p":"f","s":"FeCo up","x":-0.136,"y":3.0},{"p":"f","s":"FeCo up","x":-0.129,"y":4.5},{"p":"f","s":"FeCo up","x":-0.122,"y":7.0},{"p":"f","s":"FeCo up","x":-0.115,"y":10.9},{"p":"f","s":"FeCo up","x":-0.108,"y":13.6},{"p":"f","s":"FeCo up","x":-0.101,"y":11.7},{"p":"f","s":"FeCo up","x":-0.094,"y":8.7},{"p":"f","s":"FeCo up","x":-0.087,"y":7.2},{"p":"f","s":"FeCo up","x":-0.08,"y":7.2},{"p":"f","s":"FeCo up","x":-0.074,"y":8.1},{"p":"f","s":"FeCo up","x":-0.061,"y":14.2},{"p":"f","s":"FeCo up","x":-0.0545,"y":21.4},{"p":"f","s":"FeCo up","x":-0.048,"y":34.5},{"p":"f","s":"FeCo up","x":-0.0415,"y":55.1},{"p":"f","s":"FeCo up","x":-0.035,"y":68.7},{"p":"f","s":"FeCo up","x":-0.0285,"y":54.9},{"p":"f","s":"FeCo up","x":-0.022,"y":34.2},{"p":"f","s":"FeCo up","x":-0.0155,"y":20.9},{"p":"f","s":"FeCo up","x":-0.009,"y":13.5},{"p":"f","s":"FeCo up","x":0.004,"y":6.6},{"p":"f","s":"FeCo up","x":0.043,"y":1.5},{"p":"f","s":"FeCo up","x":0.2,"y":-0.8},
{"p":"f","s":"Fe dn","x":-0.2,"y":-5.3},{"p":"f","s":"Fe dn","x":-0.14,"y":-6.1},{"p":"f","s":"Fe dn","x":-0.0776,"y":-8.3},{"p":"f","s":"Fe dn","x":-0.0456,"y":-10.6},{"p":"f","s":"Fe dn","x":-0.0296,"y":-13.3},{"p":"f","s":"Fe dn","x":-0.0136,"y":-19.5},{"p":"f","s":"Fe dn","x":-0.0056,"y":-26.2},{"p":"f","s":"Fe dn","x":0.0024,"y":-38.0},{"p":"f","s":"Fe dn","x":0.0104,"y":-56.4},{"p":"f","s":"Fe dn","x":0.0184,"y":-68.7},{"p":"f","s":"Fe dn","x":0.0264,"y":-56.6},{"p":"f","s":"Fe dn","x":0.0344,"y":-38.4},{"p":"f","s":"Fe dn","x":0.0424,"y":-26.7},{"p":"f","s":"Fe dn","x":0.0504,"y":-20.3},{"p":"f","s":"Fe dn","x":0.0664,"y":-14.3},{"p":"f","s":"Fe dn","x":0.0824,"y":-12.0},{"p":"f","s":"Fe dn","x":0.1144,"y":-10.4},{"p":"f","s":"Fe dn","x":0.2,"y":-9.7},
{"p":"f","s":"Co dn","x":-0.2,"y":-5.3},{"p":"f","s":"Co dn","x":-0.14,"y":-6.2},{"p":"f","s":"Co dn","x":-0.0927,"y":-8.7},{"p":"f","s":"Co dn","x":-0.0637,"y":-11.7},{"p":"f","s":"Co dn","x":-0.0492,"y":-15.4},{"p":"f","s":"Co dn","x":-0.0347,"y":-23.9},{"p":"f","s":"Co dn","x":-0.0275,"y":-33.1},{"p":"f","s":"Co dn","x":-0.0202,"y":-49.3},{"p":"f","s":"Co dn","x":-0.013,"y":-74.6},{"p":"f","s":"Co dn","x":-0.0057,"y":-91.4},{"p":"f","s":"Co dn","x":0.0016,"y":-74.7},{"p":"f","s":"Co dn","x":0.0088,"y":-49.6},{"p":"f","s":"Co dn","x":0.0161,"y":-33.5},{"p":"f","s":"Co dn","x":0.0233,"y":-24.6},{"p":"f","s":"Co dn","x":0.0378,"y":-16.3},{"p":"f","s":"Co dn","x":0.0523,"y":-13.0},{"p":"f","s":"Co dn","x":0.0813,"y":-10.7},{"p":"f","s":"Co dn","x":0.2,"y":-9.7},
{"p":"f","s":"FeCo dn","x":-0.2,"y":-5.3},{"p":"f","s":"FeCo dn","x":-0.14,"y":-6.3},{"p":"f","s":"FeCo dn","x":-0.0927,"y":-8.6},{"p":"f","s":"FeCo dn","x":-0.0492,"y":-14.5},{"p":"f","s":"FeCo dn","x":-0.0347,"y":-21.6},{"p":"f","s":"FeCo dn","x":-0.0275,"y":-29.2},{"p":"f","s":"FeCo dn","x":-0.0202,"y":-42.7},{"p":"f","s":"FeCo dn","x":-0.013,"y":-63.7},{"p":"f","s":"FeCo dn","x":-0.0057,"y":-78.3},{"p":"f","s":"FeCo dn","x":0.0016,"y":-67.1},{"p":"f","s":"FeCo dn","x":0.0088,"y":-50.2},{"p":"f","s":"FeCo dn","x":0.0161,"y":-40.3},{"p":"f","s":"FeCo dn","x":0.0184,"y":-37.8},{"p":"f","s":"FeCo dn","x":0.0233,"y":-32.4},{"p":"f","s":"FeCo dn","x":0.0344,"y":-21.7},{"p":"f","s":"FeCo dn","x":0.0378,"y":-19.5},{"p":"f","s":"FeCo dn","x":0.0504,"y":-14.7},{"p":"f","s":"FeCo dn","x":0.0664,"y":-12.0},{"p":"f","s":"FeCo dn","x":0.0813,"y":-11.0},{"p":"f","s":"FeCo dn","x":0.2,"y":-9.7}
]},
"columns":2,
"spacing":0,
"bounds":"flush",
"concat":[
{"width":430,"height":178,
"resolve":{"scale":{"strokeDash":"independent","color":"independent"}},
"layer":[
{"data":{"name":"curves"},"transform":[{"filter":"datum.p == 'a' && indexof(datum.s, 'up') >= 0"}],
"mark":{"type":"line","interpolate":"monotone","clip":true},
"encoding":{
"x":{"field":"x","type":"quantitative","scale":{"domain":[-0.2,0.2],"nice":false},"axis":{"values":[-0.2,-0.1,0,0.1,0.2],"labels":false,"tickSize":-9,"title":null}},
"y":{"field":"y","type":"quantitative","scale":{"domain":[-81,87],"nice":false},"axis":{"values":[-75,-50,-25,0,25,50,75],"tickCount":20,"labelExpr":"datum.value == 50 ? '50' : datum.value == 0 ? '0' : datum.value == -50 ? '-50' : ''","tickSize":{"expr":"datum.value % 50 == 0 ? -13 : -7"},"labelPadding":22,"title":null}},
"strokeDash":{"field":"s","type":"nominal","scale":{"domain":["Fe up","Co up","FeCo up"],"range":[[1,0],[2,2.5],[7,4]]},"legend":{"orient":"none","legendX":324.5,"legendY":21,"title":null,"symbolType":"M-2.5,0H2.5","symbolSize":196,"symbolStrokeWidth":2,"labelOffset":24.5,"labelFontSize":8.5,"labelColor":"#333","rowPadding":1,"padding":0}},
"color":{"field":"s","type":"nominal","scale":{"domain":["Fe up","Co up","FeCo up"],"range":["#111","#555","#111"]},"legend":{"orient":"none","legendX":324.5,"legendY":21,"title":null,"symbolType":"M-2.5,0H2.5","symbolSize":196,"symbolStrokeWidth":2,"labelOffset":24.5,"labelFontSize":8.5,"labelColor":"#333","rowPadding":1,"padding":0}}
}},
{"data":{"name":"curves"},"transform":[{"filter":"datum.p == 'a' && indexof(datum.s, 'dn') >= 0"}],
"mark":{"type":"line","interpolate":"monotone","clip":true},
"encoding":{
"x":{"field":"x","type":"quantitative"},
"y":{"field":"y","type":"quantitative"},
"strokeDash":{"field":"s","type":"nominal","scale":{"domain":["Fe dn","Co dn","FeCo dn"],"range":[[1,0],[2,2.5],[7,4]]},"legend":{"orient":"none","legendX":324.5,"legendY":117,"title":null,"symbolType":"M-2.5,0H2.5","symbolSize":196,"symbolStrokeWidth":2,"labelOffset":24.5,"labelFontSize":8.5,"labelColor":"#333","rowPadding":1,"padding":0}},
"color":{"field":"s","type":"nominal","scale":{"domain":["Fe dn","Co dn","FeCo dn"],"range":["#111","#555","#111"]},"legend":{"orient":"none","legendX":324.5,"legendY":117,"title":null,"symbolType":"M-2.5,0H2.5","symbolSize":196,"symbolStrokeWidth":2,"labelOffset":24.5,"labelFontSize":8.5,"labelColor":"#333","rowPadding":1,"padding":0}}
}},
{"data":{"name":"fermi"},"transform":[{"filter":"datum.p == 'a'"}],"mark":{"type":"rule","color":"#222","strokeWidth":2},"encoding":{"x":{"field":"x","type":"quantitative"},"y":{"field":"y","type":"quantitative"},"y2":{"field":"y2"}}},
{"data":{"name":"comp"},"transform":[{"filter":"datum.p == 'a'"}],"mark":{"type":"text","fontSize":8.5,"color":"#333"},"encoding":{"x":{"field":"x","type":"quantitative"},"y":{"field":"y","type":"quantitative"},"text":{"field":"t"}}}
]},
{"width":431,"height":178,
"layer":[
{"data":{"name":"curves"},"transform":[{"filter":"datum.p == 'b'"}],
"mark":{"type":"line","interpolate":"monotone","clip":true},
"encoding":{
"x":{"field":"x","type":"quantitative","scale":{"domain":[-0.2,0.2],"nice":false},"axis":{"values":[-0.2,-0.1,0,0.1,0.2],"labels":false,"tickSize":-9,"title":null}},
"y":{"field":"y","type":"quantitative","scale":{"domain":[-81,87],"nice":false},"axis":{"values":[-75,-50,-25,0,25,50,75],"tickCount":20,"labels":false,"tickSize":{"expr":"datum.value % 50 == 0 ? -13 : -7"},"title":null}},
"strokeDash":{"field":"s","type":"nominal","scale":{"domain":["Fe up","Co up","FeCo up","Fe dn","Co dn","FeCo dn"],"range":[[1,0],[2,2.5],[7,4],[1,0],[2,2.5],[7,4]]},"legend":null},
"color":{"field":"s","type":"nominal","scale":{"domain":["Fe up","Co up","FeCo up","Fe dn","Co dn","FeCo dn"],"range":["#111","#555","#111","#111","#555","#111"]},"legend":null}
}},
{"data":{"name":"fermi"},"transform":[{"filter":"datum.p == 'b'"}],"mark":{"type":"rule","color":"#222","strokeWidth":2},"encoding":{"x":{"field":"x","type":"quantitative"},"y":{"field":"y","type":"quantitative"},"y2":{"field":"y2"}}},
{"data":{"name":"comp"},"transform":[{"filter":"datum.p == 'b'"}],"mark":{"type":"text","fontSize":8.5,"color":"#333"},"encoding":{"x":{"field":"x","type":"quantitative"},"y":{"field":"y","type":"quantitative"},"text":{"field":"t"}}}
]},
{"width":430,"height":177,
"layer":[
{"data":{"name":"curves"},"transform":[{"filter":"datum.p == 'c'"}],
"mark":{"type":"line","interpolate":"monotone","clip":true},
"encoding":{
"x":{"field":"x","type":"quantitative","scale":{"domain":[-0.2,0.2],"nice":false},"axis":{"values":[-0.2,-0.1,0,0.1,0.2],"labels":false,"tickSize":-9,"title":null}},
"y":{"field":"y","type":"quantitative","scale":{"domain":[-90,89],"nice":false},"axis":{"values":[-75,-50,-25,0,25,50,75],"tickCount":20,"labelExpr":"datum.value == 50 ? '50' : datum.value == 0 ? '0' : datum.value == -50 ? '-50' : ''","tickSize":{"expr":"datum.value % 50 == 0 ? -13 : -7"},"labelPadding":22,"title":"DOS (states/atom Ryd)","titlePadding":30,"titleY":77}},
"strokeDash":{"field":"s","type":"nominal","scale":{"domain":["Fe up","Co up","FeCo up","Fe dn","Co dn","FeCo dn"],"range":[[1,0],[2,2.5],[7,4],[1,0],[2,2.5],[7,4]]},"legend":null},
"color":{"field":"s","type":"nominal","scale":{"domain":["Fe up","Co up","FeCo up","Fe dn","Co dn","FeCo dn"],"range":["#111","#555","#111","#111","#555","#111"]},"legend":null}
}},
{"data":{"name":"fermi"},"transform":[{"filter":"datum.p == 'c'"}],"mark":{"type":"rule","color":"#222","strokeWidth":2},"encoding":{"x":{"field":"x","type":"quantitative"},"y":{"field":"y","type":"quantitative"},"y2":{"field":"y2"}}},
{"data":{"name":"comp"},"transform":[{"filter":"datum.p == 'c'"}],"mark":{"type":"text","fontSize":8.5,"color":"#333"},"encoding":{"x":{"field":"x","type":"quantitative"},"y":{"field":"y","type":"quantitative"},"text":{"field":"t"}}}
]},
{"width":431,"height":177,
"layer":[
{"data":{"name":"curves"},"transform":[{"filter":"datum.p == 'd'"}],
"mark":{"type":"line","interpolate":"monotone","clip":true},
"encoding":{
"x":{"field":"x","type":"quantitative","scale":{"domain":[-0.2,0.2],"nice":false},"axis":{"values":[-0.2,-0.1,0,0.1,0.2],"labels":false,"tickSize":-9,"title":null}},
"y":{"field":"y","type":"quantitative","scale":{"domain":[-90,89],"nice":false},"axis":{"values":[-75,-50,-25,0,25,50,75],"tickCount":20,"labels":false,"tickSize":{"expr":"datum.value % 50 == 0 ? -13 : -7"},"title":null}},
"strokeDash":{"field":"s","type":"nominal","scale":{"domain":["Fe up","Co up","FeCo up","Fe dn","Co dn","FeCo dn"],"range":[[1,0],[2,2.5],[7,4],[1,0],[2,2.5],[7,4]]},"legend":null},
"color":{"field":"s","type":"nominal","scale":{"domain":["Fe up","Co up","FeCo up","Fe dn","Co dn","FeCo dn"],"range":["#111","#555","#111","#111","#555","#111"]},"legend":null}
}},
{"data":{"name":"fermi"},"transform":[{"filter":"datum.p == 'd'"}],"mark":{"type":"rule","color":"#222","strokeWidth":2},"encoding":{"x":{"field":"x","type":"quantitative"},"y":{"field":"y","type":"quantitative"},"y2":{"field":"y2"}}},
{"data":{"name":"comp"},"transform":[{"filter":"datum.p == 'd'"}],"mark":{"type":"text","fontSize":8.5,"color":"#333"},"encoding":{"x":{"field":"x","type":"quantitative"},"y":{"field":"y","type":"quantitative"},"text":{"field":"t"}}}
]},
{"width":430,"height":176,
"layer":[
{"data":{"name":"curves"},"transform":[{"filter":"datum.p == 'e'"}],
"mark":{"type":"line","interpolate":"monotone","clip":true},
"encoding":{
"x":{"field":"x","type":"quantitative","scale":{"domain":[-0.2,0.2],"nice":false},"axis":{"values":[-0.2,-0.1,0,0.1,0.2],"labelExpr":"datum.value == -0.2 ? '-0.2' : datum.value == 0 ? '0' : datum.value == 0.2 ? '0.2' : ''","tickSize":-9,"labelPadding":20,"title":"Energy (Ryd)","titleX":430,"titlePadding":12}},
"y":{"field":"y","type":"quantitative","scale":{"domain":[-89,90],"nice":false},"axis":{"values":[-75,-50,-25,0,25,50,75],"tickCount":20,"labelExpr":"datum.value == 50 ? '50' : datum.value == 0 ? '0' : datum.value == -50 ? '-50' : ''","tickSize":{"expr":"datum.value % 50 == 0 ? -13 : -7"},"labelPadding":22,"title":null}},
"strokeDash":{"field":"s","type":"nominal","scale":{"domain":["Fe up","Co up","FeCo up","Fe dn","Co dn","FeCo dn"],"range":[[1,0],[2,2.5],[7,4],[1,0],[2,2.5],[7,4]]},"legend":null},
"color":{"field":"s","type":"nominal","scale":{"domain":["Fe up","Co up","FeCo up","Fe dn","Co dn","FeCo dn"],"range":["#111","#555","#111","#111","#555","#111"]},"legend":null}
}},
{"data":{"name":"fermi"},"transform":[{"filter":"datum.p == 'e'"}],"mark":{"type":"rule","color":"#222","strokeWidth":2},"encoding":{"x":{"field":"x","type":"quantitative"},"y":{"field":"y","type":"quantitative"},"y2":{"field":"y2"}}},
{"data":{"name":"comp"},"transform":[{"filter":"datum.p == 'e'"}],"mark":{"type":"text","fontSize":8.5,"color":"#333"},"encoding":{"x":{"field":"x","type":"quantitative"},"y":{"field":"y","type":"quantitative"},"text":{"field":"t"}}}
]},
{"width":431,"height":176,
"layer":[
{"data":{"name":"curves"},"transform":[{"filter":"datum.p == 'f'"}],
"mark":{"type":"line","interpolate":"monotone","clip":true},
"encoding":{
"x":{"field":"x","type":"quantitative","scale":{"domain":[-0.2,0.2],"nice":false},"axis":{"values":[-0.2,-0.1,0,0.1,0.2],"labelExpr":"datum.value == 0 ? '0' : datum.value == 0.2 ? '0.2' : ''","tickSize":-9,"labelPadding":20,"title":null}},
"y":{"field":"y","type":"quantitative","scale":{"domain":[-89,90],"nice":false},"axis":{"values":[-75,-50,-25,0,25,50,75],"tickCount":20,"labels":false,"tickSize":{"expr":"datum.value % 50 == 0 ? -13 : -7"},"title":null}},
"strokeDash":{"field":"s","type":"nominal","scale":{"domain":["Fe up","Co up","FeCo up","Fe dn","Co dn","FeCo dn"],"range":[[1,0],[2,2.5],[7,4],[1,0],[2,2.5],[7,4]]},"legend":null},
"color":{"field":"s","type":"nominal","scale":{"domain":["Fe up","Co up","FeCo up","Fe dn","Co dn","FeCo dn"],"range":["#111","#555","#111","#111","#555","#111"]},"legend":null}
}},
{"data":{"name":"fermi"},"transform":[{"filter":"datum.p == 'f'"}],"mark":{"type":"rule","color":"#222","strokeWidth":2},"encoding":{"x":{"field":"x","type":"quantitative"},"y":{"field":"y","type":"quantitative"},"y2":{"field":"y2"}}},
{"data":{"name":"comp"},"transform":[{"filter":"datum.p == 'f'"}],"mark":{"type":"text","fontSize":8.5,"color":"#333"},"encoding":{"x":{"field":"x","type":"quantitative"},"y":{"field":"y","type":"quantitative"},"text":{"field":"t"}}}
]}
]
}
